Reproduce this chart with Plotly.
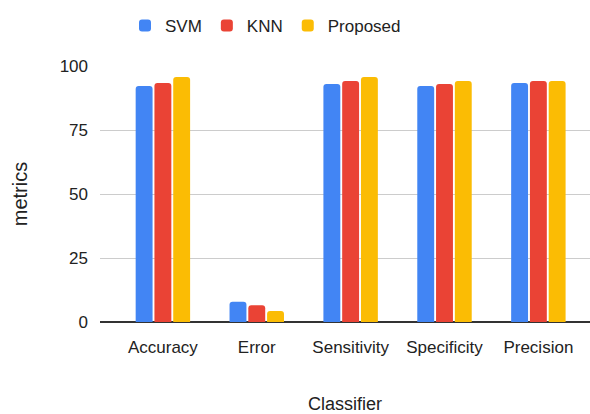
import plotly.graph_objects as go

categories = ["Accuracy", "Error", "Sensitivity", "Specificity", "Precision"]
svm = [92.2, 7.9, 93.0, 92.2, 93.4]
knn = [93.4, 6.5, 94.1, 93.0, 94.1]
proposed = [95.7, 4.3, 95.7, 94.1, 94.1]
series_names = ["SVM", "KNN", "Proposed"]
colors = ["#4285F4", "#EA4335", "#FBBC04"]
y_ticks = [0, 25, 50, 75, 100]

FONT = "Liberation Sans, Arial, sans-serif"

fig = go.Figure()
for name, vals, col in zip(series_names, [svm, knn, proposed], colors):
    fig.add_trace(go.Bar(x=categories, y=vals, name=name, marker_color=col,
                         marker_line_width=0))

fig.update_layout(
    width=590, height=414,
    margin=dict(l=100, r=0, t=66, b=92),
    paper_bgcolor="white", plot_bgcolor="white",
    font=dict(family=FONT, size=17, color="#222222"),
    barmode="group", bargap=0.40, bargroupgap=0.1, barcornerradius=3,
    legend=dict(orientation="h", yref="container", y=1 - 26 / 414, yanchor="middle",
                x=(125 - 100) / 490, xanchor="left", font=dict(size=17),
                itemclick=False),
    xaxis=dict(range=[-0.67, 4.55], showgrid=False, ticks="", ticklabelstandoff=13,
               showline=False, zeroline=False,
               title=dict(text="Classifier", standoff=43, font=dict(size=18))),
    yaxis=dict(range=[0, 100], tickvals=y_ticks, showgrid=True, gridcolor="#cccccc",
               gridwidth=1, zeroline=True, zerolinecolor="#333333", zerolinewidth=1.5,
               ticks="", ticklabelstandoff=11,
               title=dict(text="metrics", standoff=26, font=dict(size=20))),
)

fig.write_html("out.html")
